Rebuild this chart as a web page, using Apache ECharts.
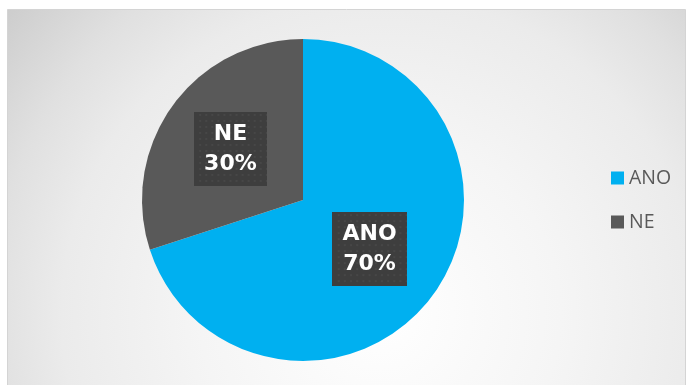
<!DOCTYPE html>
<html>
<head>
<meta charset="utf-8">
<script src="https://cdn.jsdelivr.net/npm/echarts@6/dist/echarts.min.js"></script>
<style>
html,body{margin:0;padding:0;background:#fff;}
#chart{width:690px;height:385px;}
</style>
</head>
<body>
<div id="chart"></div>
<script>
const categories = ['ANO', 'NE'];
const values = [70, 30];
const colors = ['#00B0F0', '#595959'];

function makePattern(w, h) {
  const c = document.createElement('canvas');
  c.width = w; c.height = h;
  const ctx = c.getContext('2d');
  ctx.fillStyle = '#3e3e3e';
  ctx.fillRect(0, 0, w, h);
  ctx.fillStyle = '#474747';
  for (let y = 2; y < h; y += 6) {
    for (let x = ((y / 6) % 2 ? 5 : 2); x < w; x += 6) {
      ctx.fillRect(x, y, 2, 2);
    }
  }
  return c;
}
const pattern = makePattern(72, 74);

const chart = echarts.init(document.getElementById('chart'), null, {renderer: 'canvas'});
chart.setOption({
  animation: false,
  graphic: [{
    type: 'rect',
    left: 7, top: 9,
    z: -10,
    shape: {width: 678, height: 380},
    style: {
      fill: {
        type: 'radial', x: 0.55, y: 0.8, r: 1.35,
        colorStops: [
          {offset: 0, color: '#ffffff'},
          {offset: 0.35, color: '#f5f5f5'},
          {offset: 0.62, color: '#ebebeb'},
          {offset: 0.76, color: '#e0e0e0'},
          {offset: 1, color: '#c6c6c6'}
        ]
      },
      stroke: '#d4d4d4',
      lineWidth: 1
    },
    silent: true
  }],
  legend: {
    orient: 'vertical',
    left: 611,
    top: 168,
    padding: 0,
    icon: 'rect',
    itemWidth: 13,
    itemHeight: 13,
    itemGap: 24,
    textStyle: {fontFamily: 'Open Sans', fontSize: 19.5, lineHeight: 20, color: '#595959'},
    data: categories
  },
  series: [{
    type: 'pie',
    center: [303, 200],
    radius: 161,
    startAngle: 90,
    clockwise: true,
    color: colors,
    itemStyle: {borderWidth: 0},
    label: {
      show: true,
      position: 'inside',
      formatter: '{b}\n{d}%',
      color: '#ffffff',
      fontFamily: 'DejaVu Sans',
      fontWeight: 'bold',
      fontSize: 22,
      lineHeight: 30,
      padding: [8, 10, 6, 10],
      backgroundColor: {image: pattern},
      shadowColor: 'rgba(0,0,0,0.35)',
      shadowBlur: 4
    },
    labelLine: {show: false},
    emphasis: {disabled: true},
    data: categories.map((n, i) => ({
      name: n,
      value: values[i],
      label: i === 1 ? {offset: [-5, -2]} : {offset: [-1, 0]}
    }))
  }]
});
</script>
</body>
</html>
